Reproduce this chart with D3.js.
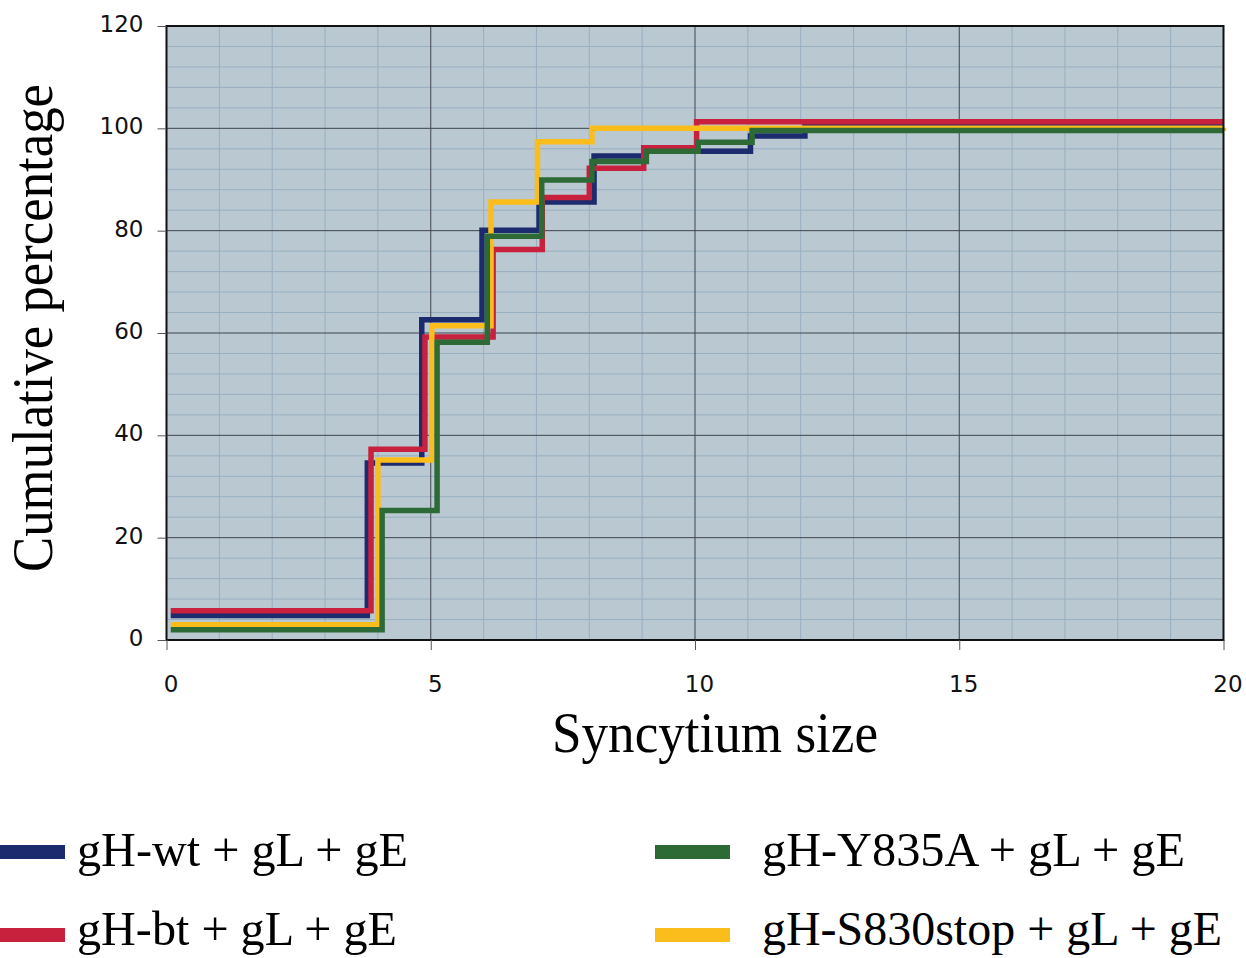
<!DOCTYPE html>
<html>
<head>
<meta charset="utf-8">
<script src="https://cdn.jsdelivr.net/npm/d3@7"></script>
<style>
  html, body { margin: 0; padding: 0; background: #ffffff; }
  svg { display: block; }
</style>
</head>
<body>
<svg id="chart" width="1246" height="958"></svg>
<script>
// ---- data ----
const seriesNames = ["gH-wt + gL + gE", "gH-bt + gL + gE", "gH-Y835A + gL + gE", "gH-S830stop + gL + gE"];
const seriesColors = ["#1c2b6e", "#c8213d", "#2d6a36", "#fbbd1c"];

// step points [syncytium size, cumulative %]
const wtX  = [0.08, 3.80, 4.83, 5.97, 7.05, 8.09, 9.03, 11.05, 12.08, 20];
const wtY  = [4.8, 34.6, 62.6, 80.1, 85.6, 94.6, 95.5, 98.5, 100.6, 100.6];
const btX  = [0.08, 3.87, 4.89, 6.18, 7.11, 8.00, 9.03, 10.03, 20];
const btY  = [5.7, 37.3, 59.2, 76.3, 86.5, 92.2, 96.2, 101.3, 101.3];
const y835X = [0.08, 4.08, 5.12, 6.07, 7.10, 8.05, 9.08, 10.06, 11.08, 20];
const y835Y = [2.0, 25.3, 58.2, 78.9, 89.9, 93.5, 95.5, 97.3, 99.6, 99.6];
const s830X = [0.08, 4.00, 5.02, 6.14, 7.02, 8.05, 20];
const s830Y = [3.0, 35.2, 61.4, 85.6, 97.4, 100.0, 100.1];

const xTicks = [0, 5, 10, 15, 20];
const yTicks = [0, 20, 40, 60, 80, 100, 120];
const xTitle = "Syncytium size";
const yTitle = "Cumulative percentage";

// ---- layout ----
const svg = d3.select("#chart");
const L = 166.5, R = 1223.5, T = 26, B = 640;
const x = d3.scaleLinear().domain([0, 20]).range([L, R]);
const y = d3.scaleLinear().domain([0, 120]).range([B, T]);

const zip = (xs, ys) => xs.map((v, i) => [v, ys[i]]);
const series = [
  { name: seriesNames[0], color: seriesColors[0], pts: zip(wtX, wtY) },
  { name: seriesNames[1], color: seriesColors[1], pts: zip(btX, btY) },
  { name: seriesNames[2], color: seriesColors[2], pts: zip(y835X, y835Y) },
  { name: seriesNames[3], color: seriesColors[3], pts: zip(s830X, s830Y) }
];

// plot background
svg.append("rect").attr("x", L).attr("y", T).attr("width", R - L).attr("height", B - T)
  .attr("fill", "#bac8d2");

// minor grid
const g = svg.append("g");
g.selectAll("line.minx").data(d3.range(1, 20).filter(v => v % 5 !== 0)).join("line")
  .attr("x1", d => x(d)).attr("x2", d => x(d)).attr("y1", T).attr("y2", B)
  .attr("stroke", "#98afc0").attr("stroke-width", 1);
g.selectAll("line.miny").data(d3.range(4, 120, 4).filter(v => v % 20 !== 0)).join("line")
  .attr("y1", d => y(d)).attr("y2", d => y(d)).attr("x1", L).attr("x2", R)
  .attr("stroke", "#98afc0").attr("stroke-width", 1);
// major grid
g.selectAll("line.majx").data([5, 10, 15]).join("line")
  .attr("x1", d => x(d)).attr("x2", d => x(d)).attr("y1", T).attr("y2", B)
  .attr("stroke", "#3f454c").attr("stroke-width", 1);
g.selectAll("line.majy").data([20, 40, 60, 80, 100]).join("line")
  .attr("y1", d => y(d)).attr("y2", d => y(d)).attr("x1", L).attr("x2", R)
  .attr("stroke", "#3f454c").attr("stroke-width", 1);

// series (draw order: wt, bt, S830stop, Y835A)
const line = d3.line().x(d => x(d[0])).y(d => y(d[1])).curve(d3.curveStepAfter);
const drawOrder = [series[0], series[1], series[3], series[2]];
svg.append("g").selectAll("path").data(drawOrder).join("path")
  .attr("d", d => line(d.pts))
  .attr("fill", "none")
  .attr("stroke", d => d.color)
  .attr("stroke-width", 5.5)
  .attr("stroke-linejoin", "miter")
  .attr("stroke-linecap", "butt");

// frame
svg.append("rect").attr("x", L).attr("y", T).attr("width", R - L).attr("height", B - T)
  .attr("fill", "none").attr("stroke", "#111").attr("stroke-width", 2);

// axes
const yAxis = d3.axisLeft(y).tickValues(yTicks).tickSize(9).tickPadding(14).tickFormat(d3.format("d"));
const ya = svg.append("g").attr("transform", `translate(${L},0)`).call(yAxis);
ya.select(".domain").remove();
ya.selectAll(".tick line").attr("stroke", "#555");
ya.selectAll(".tick text").attr("font-family", "DejaVu Sans, sans-serif").attr("font-size", 23)
  .attr("fill", "#111").attr("dy", "0.32em").attr("y", -2).attr("x", -23);

const xAxis = d3.axisBottom(x).tickValues(xTicks).tickSize(10).tickPadding(26).tickFormat(d3.format("d"));
const xa = svg.append("g").attr("transform", `translate(0,${B})`).call(xAxis);
xa.select(".domain").remove();
xa.selectAll(".tick line").attr("stroke", "#555");
xa.selectAll(".tick text").attr("font-family", "DejaVu Sans, sans-serif").attr("font-size", 23)
  .attr("fill", "#111").attr("dx", 4);

// titles
svg.append("text").text(xTitle)
  .attr("x", 715).attr("y", 752)
  .attr("text-anchor", "middle")
  .attr("font-family", "Liberation Serif, Times New Roman, serif")
  .attr("font-size", 58)
  .attr("textLength", 326).attr("lengthAdjust", "spacingAndGlyphs")
  .attr("fill", "#000");

svg.append("text").text(yTitle)
  .attr("transform", "translate(52,328) rotate(-90)")
  .attr("text-anchor", "middle")
  .attr("font-family", "Liberation Serif, Times New Roman, serif")
  .attr("font-size", 58)
  .attr("textLength", 488).attr("lengthAdjust", "spacingAndGlyphs")
  .attr("fill", "#000");

// legend
const legendItems = [
  { s: series[0], sx: 0,   tx: 77,  cy: 852, ty: 866, len: 331 },
  { s: series[1], sx: 0,   tx: 77,  cy: 935, ty: 945, len: 320 },
  { s: series[2], sx: 655, tx: 762, cy: 852, ty: 866, len: 423 },
  { s: series[3], sx: 655, tx: 762, cy: 935, ty: 945, len: 460 }
];
const lg = svg.append("g").selectAll("g").data(legendItems).join("g");
lg.append("rect")
  .attr("x", d => d.sx).attr("y", d => d.cy - 7)
  .attr("width", d => d.sx === 0 ? 65 : 75).attr("height", 14)
  .attr("fill", d => d.s.color);
lg.append("text").text(d => d.s.name)
  .attr("x", d => d.tx).attr("y", d => d.ty)
  .attr("font-family", "Liberation Serif, Times New Roman, serif")
  .attr("font-size", 48)
  .attr("textLength", d => d.len).attr("lengthAdjust", "spacingAndGlyphs")
  .attr("fill", "#000");
</script>
</body>
</html>
